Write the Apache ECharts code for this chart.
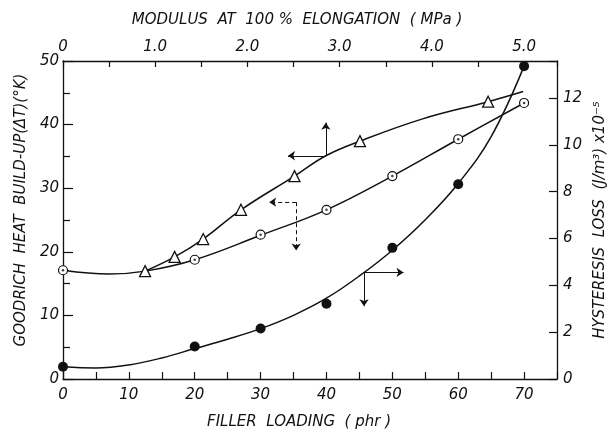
<!DOCTYPE html>
<html>
<head>
<meta charset="utf-8">
<script src="https://cdn.jsdelivr.net/npm/echarts@6/dist/echarts.min.js"></script>
<style>
  html, body { margin: 0; padding: 0; background: #fff; }
  #chart { width: 616px; height: 435px; }
</style>
</head>
<body>
<div id="chart"></div>
<script>
// Measured points: heat build-up vs filler loading (open circles, left/bottom axes)
const fillerLoading = [0, 20, 30, 40, 50, 60, 70];
const heatVsFiller = [17.1, 18.75, 22.7, 26.6, 31.9, 37.7, 43.4];

// Measured points: heat build-up vs modulus (triangles, left/top axes)
const modulus = [0.89, 1.21, 1.52, 1.93, 2.51, 3.22, 4.61];
const heatVsModulus = [16.96, 19.2, 22.0, 26.6, 31.9, 37.4, 43.6];

// Measured points: hysteresis loss vs filler loading (filled circles, right/bottom axes)
const hysteresisLoss = [0.52, 1.39, 2.16, 3.21, 5.60, 8.32, 13.36];

// Fitted curves drawn through each set
const fillerFitX = [0, 7, 12.5, 20, 30, 40, 50, 60, 70];
const heatFillerFit = [17.1, 16.5, 16.96, 18.75, 22.6, 26.6, 31.9, 37.7, 43.4];
const modulusFitX = [0.89, 1.21, 1.52, 1.93, 2.51, 2.85, 3.22, 3.9, 4.61, 4.99];
const heatModulusFit = [16.96, 19.2, 22.0, 26.6, 31.9, 35.1, 37.4, 40.9, 43.6, 45.2];
const hysteresisFitX = [0, 5, 10, 15, 20, 25, 30, 35, 40, 45, 50, 55, 60, 65, 70];
const hysteresisFit = [0.52, 0.47, 0.6, 0.9, 1.3, 1.7, 2.15, 2.72, 3.45, 4.4, 5.5, 6.8, 8.35, 10.35, 13.36];

// Arrow annotations pointing each curve at its axes: [corner, horizontal end, vertical end]
const modulusArrow = { corner: [2.85, 35.1], toX: 2.44, toY: 40.3 };
const fillerArrow = { corner: [35.4, 27.8], toX: 31.3, toY: 20.2 };
const hysteresisArrow = { corner: [45.7, 4.55], toX: 51.7, toY: 3.11 };

// Axis tick settings
const fillerAxis = { min: 0, max: 75, interval: 5 };
const modulusAxis = { min: 0, max: 75 / 14, interval: 0.5 };
const heatAxis = { min: 0, max: 50, interval: 10 };
const hysteresisAxis = { min: 0, max: 13.58, interval: 2 };

const FONT = 'DejaVu Sans';
const INK = '#111';
const pairs = (xs, ys) => xs.map((x, i) => [x, ys[i]]);

const labelStyle = { fontFamily: FONT, fontStyle: 'italic', fontSize: 15, color: INK };
const nameStyle = { fontFamily: FONT, fontStyle: 'italic', fontSize: 15, color: INK };
const axisLine = { show: true, onZero: false, lineStyle: { color: INK, width: 1.3 } };

function arrowLines(a, dashed) {
  const style = { color: INK, width: 1, type: dashed ? [4, 3] : 'solid' };
  return {
    silent: true,
    animation: false,
    symbol: ['none', 'arrow'],
    symbolSize: 7,
    label: { show: false },
    emphasis: { disabled: true },
    lineStyle: style,
    data: [
      [{ coord: a.corner }, { coord: [a.toX, a.corner[1]] }],
      [{ coord: a.corner }, { coord: [a.corner[0], a.toY] }]
    ]
  };
}

const chart = echarts.init(document.getElementById('chart'));
chart.setOption({
  animation: false,
  backgroundColor: '#fff',
  grid: { left: 63, right: 58, top: 61, bottom: 51 },
  xAxis: [
    {
      type: 'value', position: 'bottom', ...fillerAxis,
      name: 'FILLER  LOADING  ( phr )', nameLocation: 'middle', nameGap: 36,
      nameTextStyle: Object.assign({ padding: [0, 22, 0, 0] }, nameStyle),
      axisLine, splitLine: { show: false },
      axisTick: { inside: true, length: 7, lineStyle: { color: INK, width: 1.2 } },
      axisLabel: Object.assign({ margin: 9, formatter: v => (v % 10 === 0 && v <= 70) ? String(v) : '' }, labelStyle)
    },
    {
      type: 'value', position: 'top', ...modulusAxis,
      name: 'MODULUS  AT  100 %  ELONGATION  ( MPa )', nameLocation: 'middle', nameGap: 33,
      nameTextStyle: Object.assign({ padding: [0, 26, 0, 0] }, nameStyle),
      axisLine, splitLine: { show: false },
      axisTick: { inside: true, length: 6, lineStyle: { color: INK, width: 1.2 } },
      axisLabel: Object.assign({
        margin: 6,
        formatter: v => {
          const r = Math.round(v * 10) / 10;
          if (Math.abs(r - Math.round(r)) > 1e-6 || r > 5) return '';
          return r === 0 ? '0' : r.toFixed(1);
        }
      }, labelStyle)
    }
  ],
  yAxis: [
    {
      type: 'value', position: 'left', ...heatAxis,
      name: 'GOODRICH  HEAT  BUILD-UP(ΔT)(°K)', nameLocation: 'middle', nameGap: 32,
      nameTextStyle: Object.assign({ padding: [0, 0, 0, 20] }, nameStyle),
      axisLine, splitLine: { show: false },
      axisTick: { inside: true, length: 10, lineStyle: { color: INK, width: 1.2 } },
      minorTick: { show: true, splitNumber: 2, length: 7, lineStyle: { color: INK, width: 1.2 } },
      axisLabel: Object.assign({ margin: 4 }, labelStyle)
    },
    {
      type: 'value', position: 'right', ...hysteresisAxis,
      name: 'HYSTERESIS  LOSS  (J/m³) x10⁻⁵', nameLocation: 'middle', nameGap: 32, nameRotate: 90,
      nameTextStyle: nameStyle,
      axisLine, splitLine: { show: false },
      axisTick: { inside: true, length: 8, lineStyle: { color: INK, width: 1.2 } },
      axisLabel: Object.assign({ margin: 6, formatter: v => Number.isInteger(v) ? String(v) : '' }, labelStyle)
    }
  ],
  series: [
    {
      name: 'heat-filler-fit', type: 'line', xAxisIndex: 0, yAxisIndex: 0,
      data: pairs(fillerFitX, heatFillerFit), smooth: 0.4, showSymbol: false,
      lineStyle: { color: INK, width: 1.5 }, z: 2,
      markLine: arrowLines(fillerArrow, true)
    },
    {
      name: 'heat-modulus-fit', type: 'line', xAxisIndex: 1, yAxisIndex: 0,
      data: pairs(modulusFitX, heatModulusFit), smooth: 0.4, showSymbol: false,
      lineStyle: { color: INK, width: 1.5 }, z: 2,
      markLine: arrowLines(modulusArrow, false)
    },
    {
      name: 'hysteresis-fit', type: 'line', xAxisIndex: 0, yAxisIndex: 1,
      data: pairs(hysteresisFitX, hysteresisFit), smooth: 0.4, showSymbol: false,
      lineStyle: { color: INK, width: 1.5 }, z: 2,
      markLine: arrowLines(hysteresisArrow, false)
    },
    {
      name: 'heat-filler', type: 'scatter', xAxisIndex: 0, yAxisIndex: 0,
      data: pairs(fillerLoading, heatVsFiller), symbol: 'circle', symbolSize: 9,
      itemStyle: { color: '#fff', borderColor: INK, borderWidth: 1.2, opacity: 1 }, z: 4
    },
    {
      name: 'heat-filler-dot', type: 'scatter', xAxisIndex: 0, yAxisIndex: 0,
      data: pairs(fillerLoading, heatVsFiller), symbol: 'circle', symbolSize: 2.5,
      itemStyle: { color: INK }, z: 5
    },
    {
      name: 'heat-modulus', type: 'scatter', xAxisIndex: 1, yAxisIndex: 0,
      data: pairs(modulus, heatVsModulus), symbol: 'triangle', symbolSize: 11,
      itemStyle: { color: '#fff', borderColor: INK, borderWidth: 1.3, opacity: 1 }, z: 4
    },
    {
      name: 'hysteresis', type: 'scatter', xAxisIndex: 0, yAxisIndex: 1,
      data: pairs(fillerLoading, hysteresisLoss), symbol: 'circle', symbolSize: 10,
      itemStyle: { color: INK, opacity: 1 }, z: 4
    }
  ]
});
</script>
</body>
</html>
